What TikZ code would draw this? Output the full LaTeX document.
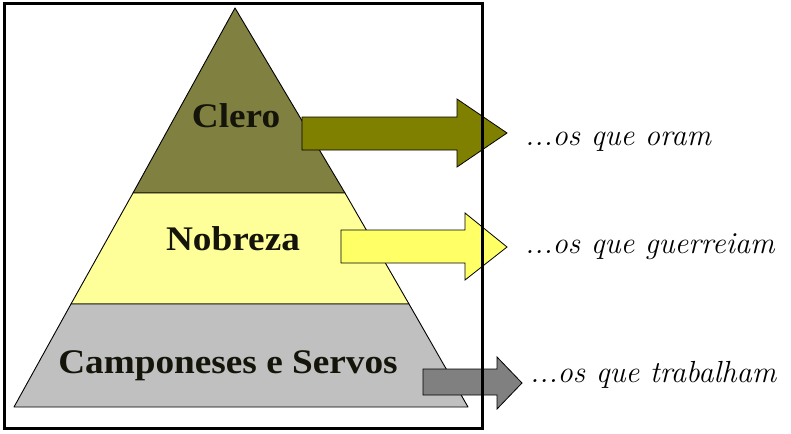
\documentclass[tikz,border=0pt]{standalone}
\usepackage{fontspec}
\setmainfont{Liberation Serif}
\newfontfamily\pyrfont[FakeStretch=1.08]{Liberation Serif}
\newfontfamily\handfont{Latin Modern Roman}
\definecolor{olivetop}{RGB}{128,128,64}
\definecolor{olivearrow}{RGB}{128,128,0}
\definecolor{yellowband}{RGB}{255,255,153}
\definecolor{yellowarrow}{RGB}{255,255,102}
\definecolor{grayband}{RGB}{192,192,192}
\definecolor{grayarrow}{RGB}{128,128,128}
\definecolor{inkcol}{RGB}{20,20,10}
\begin{document}
\begin{tikzpicture}[x=1pt,y=-1pt,
  band/.style={draw=black, line width=0.9pt, line join=round},
  blockarrow/.style={draw=black, line width=0.8pt, line join=miter},
  lvl/.style={font=\pyrfont\fontsize{34.5}{34.5}\selectfont\bfseries, text=inkcol, inner sep=0, anchor=base},
  hand/.style={font=\handfont\fontsize{30.5}{30.5}\selectfont\itshape, anchor=base west, inner sep=0}]
\useasboundingbox (0,0) rectangle (791,433);
\fill[white] (0,0) rectangle (791,433);
% pyramid bands
\filldraw[band, fill=olivetop] (235,8) -- (345,193) -- (133,193) -- cycle;
\filldraw[band, fill=yellowband] (133,193) -- (345,193) -- (409,304) -- (71,304) -- cycle;
\filldraw[band, fill=grayband] (71,304) -- (409,304) -- (468,407) -- (14,407) -- cycle;
% labels
\node[lvl] (clero) at (236,128) {Clero};
\node[lvl] (nobreza) at (233,250) {Nobreza};
\node[lvl] (camp) at (228,373) {Camponeses e Servos};
% block arrows
\filldraw[blockarrow, fill=olivearrow] (302,117) -- (457,117) -- (457,99) -- (507,133) -- (457,167) -- (457,150) -- (302,150) -- cycle;
\filldraw[blockarrow, fill=yellowarrow] (341,230) -- (465,230) -- (465,213) -- (507,247) -- (465,280) -- (465,263) -- (341,263) -- cycle;
\filldraw[blockarrow, fill=grayarrow] (423,369) -- (497,369) -- (497,357) -- (522,383) -- (497,409) -- (497,395) -- (423,395) -- cycle;
% frame
\draw[line width=3pt] (4,4) rectangle (482,428);
% right texts
\node[hand] (oram) at (525,145) {...os que oram};
\node[hand] (guerreiam) at (525,253) {...os que guerreiam};
\node[hand] (trabalham) at (530,382) {...os que trabalham};
\end{tikzpicture}
\end{document}
